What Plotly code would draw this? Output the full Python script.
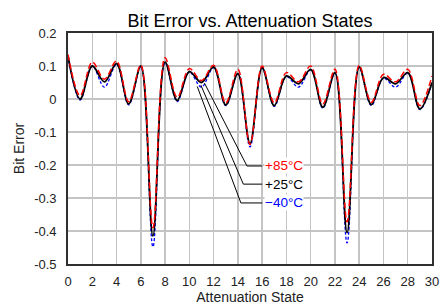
import plotly.graph_objects as go

states = list(range(31))
p25 = [0.13, 0.00, 0.10, 0.052, 0.107, -0.015, 0.10, -0.415, 0.112, -0.005, 0.083,
       0.05, 0.097, -0.018, 0.077, -0.135, 0.095, -0.02, 0.07, 0.046, 0.09,
       -0.025, 0.08, -0.405, 0.097, -0.017, 0.065, 0.046, 0.08, -0.03, 0.05]
p85 = [0.135, 0.01, 0.112, 0.06, 0.115, -0.008, 0.103, -0.39, 0.125, 0.005, 0.092,
       0.056, 0.102, -0.012, 0.09, -0.138, 0.1, -0.012, 0.08, 0.052, 0.1,
       -0.015, 0.09, -0.372, 0.102, -0.01, 0.075, 0.052, 0.09, -0.02, 0.07]
m40 = [0.13, -0.003, 0.10, 0.036, 0.105, -0.018, 0.098, -0.448, 0.11, -0.008, 0.082,
       0.036, 0.095, -0.02, 0.076, -0.145, 0.093, -0.022, 0.068, 0.036, 0.088,
       -0.028, 0.078, -0.436, 0.095, -0.02, 0.063, 0.036, 0.078, -0.032, 0.048]

xticks = list(range(0, 31, 2))
yticks = [0.2, 0.1, 0, -0.1, -0.2, -0.3, -0.4, -0.5]
yticktext = ["0.2", "0.1", "0", "-0.1", "-0.2", "-0.3", "-0.4", "-0.5"]

labels = ["+85°C", "+25°C", "\u221240°C"]
label_colors = ["#ff0000", "#000000", "#0000ff"]
# leader lines: start point, bend point, end (data coords)
leaders = [
    ((11.25, 0.048), (14.75, -0.203), (16.0, -0.203)),
    ((10.95, 0.042), (14.45, -0.258), (16.0, -0.258)),
    ((10.65, 0.038), (14.25, -0.315), (16.0, -0.315)),
]

FONT = "Liberation Sans, Arial, sans-serif"

fig = go.Figure()
fig.add_trace(go.Scatter(x=states, y=m40, mode="lines", name="-40°C",
                         line=dict(color="#0000ff", width=1.3, dash="3px,2px", shape="spline", smoothing=1)))
fig.add_trace(go.Scatter(x=states, y=p25, mode="lines", name="+25°C",
                         line=dict(color="#000000", width=1.8, shape="spline", smoothing=1)))
fig.add_trace(go.Scatter(x=states, y=p85, mode="lines", name="+85°C",
                         line=dict(color="#ff0000", width=1.5, dash="6px,3px", shape="spline", smoothing=1)))

for (s, b, e) in leaders:
    fig.add_shape(type="line", xref="x", yref="y", x0=s[0], y0=s[1], x1=b[0], y1=b[1],
                  line=dict(color="black", width=1))
    fig.add_shape(type="line", xref="x", yref="y", x0=b[0], y0=b[1], x1=e[0], y1=e[1],
                  line=dict(color="black", width=1))

for (s, b, e), t, c in zip(leaders, labels, label_colors):
    fig.add_annotation(x=e[0], y=e[1], xref="x", yref="y", text=t, showarrow=False,
                       xanchor="left", xshift=2, bgcolor="white", borderpad=0,
                       font=dict(family=FONT, size=13.5, color=c))

fig.update_layout(
    width=440, height=308,
    margin=dict(l=68, r=8, t=33, b=44, autoexpand=False),
    paper_bgcolor="white", plot_bgcolor="white",
    showlegend=False,
    title=dict(text="Bit Error vs. Attenuation States", x=0.5, xref="paper",
               y=1 - 21 / 308, yanchor="middle", automargin=False,
               font=dict(family=FONT, size=18, color="#000000")),
    font=dict(family=FONT, size=13, color="#222222"),
)
fig.update_xaxes(range=[0, 30], tickvals=xticks, showgrid=True, gridcolor="#c4c4c4", gridwidth=1.5,
                 showline=True, linecolor="#303030", linewidth=1.8, mirror=True, zeroline=False,
                 ticks="", ticklabelstandoff=5, automargin=False,
                 title=dict(text="Attenuation State", standoff=3, font=dict(family=FONT, size=14, color="#222222")))
fig.update_yaxes(range=[-0.5, 0.2], tickvals=yticks, ticktext=yticktext, showgrid=True,
                 gridcolor="#c4c4c4", gridwidth=1.5,
                 showline=True, linecolor="#303030", linewidth=1.8, mirror=True, zeroline=False,
                 ticks="", ticklabelstandoff=7, automargin=False,
                 title=dict(text="Bit Error", standoff=6, font=dict(family=FONT, size=14, color="#222222")))

fig.write_html("out.html", config={"displayModeBar": False, "staticPlot": True},
               post_script="document.body.style.margin='0';document.body.style.padding='0';document.body.style.overflow='hidden';")
